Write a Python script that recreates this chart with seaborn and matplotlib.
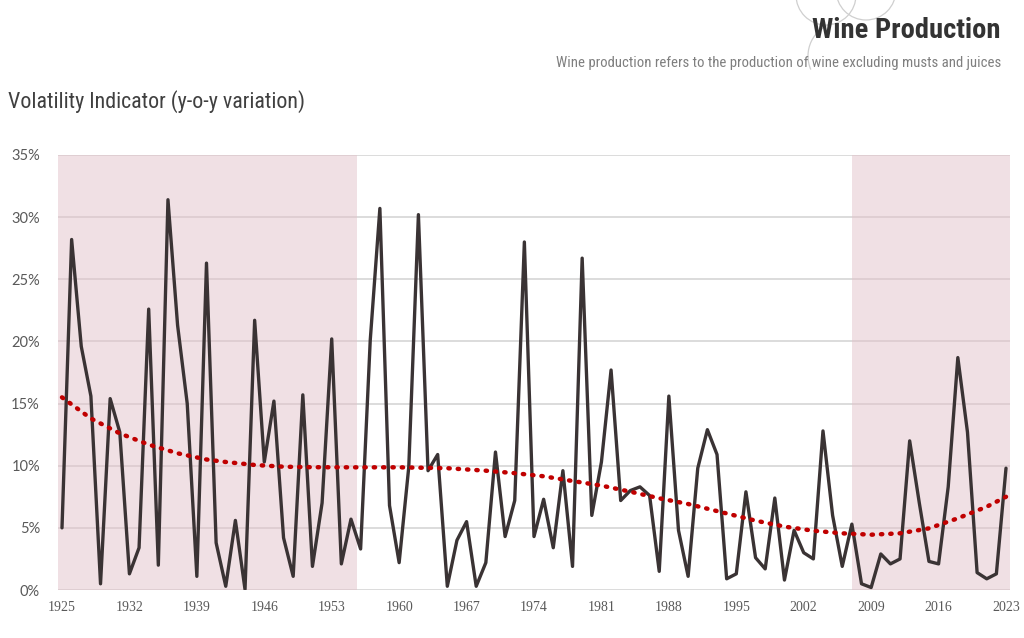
import numpy as np
import pandas as pd
import matplotlib
matplotlib.use("Agg")
import matplotlib.pyplot as plt
import seaborn as sns
from matplotlib.patches import Arc
from matplotlib import font_manager as fm

# ---------------- data ----------------
years = list(range(1925, 2024))
volatility = [
    5.0, 28.2, 19.6, 15.6, 0.5, 15.4, 12.7, 1.3, 3.4, 22.6,      # 1925-1934
    2.0, 31.4, 21.3, 15.0, 1.1, 26.3, 3.8, 0.3, 5.6, 0.05,       # 1935-1944
    21.7, 10.3, 15.2, 4.2, 1.1, 15.7, 1.9, 7.0, 20.2, 2.1,       # 1945-1954
    5.7, 3.3, 20.1, 30.7, 6.8, 2.2, 9.9, 30.2, 9.6, 10.9,        # 1955-1964
    0.3, 4.0, 5.5, 0.3, 2.2, 11.1, 4.3, 7.2, 28.0, 4.3,          # 1965-1974
    7.3, 3.4, 9.6, 1.9, 26.7, 6.0, 10.3, 17.7, 7.2, 8.0,         # 1975-1984
    8.3, 7.6, 1.5, 15.6, 4.8, 1.1, 9.8, 12.9, 10.9, 0.9,         # 1985-1994
    1.3, 7.9, 2.6, 1.7, 7.4, 0.8, 4.8, 3.0, 2.5, 12.8,           # 1995-2004
    6.0, 1.9, 5.3, 0.5, 0.2, 2.9, 2.1, 2.5, 12.0, 7.0,           # 2005-2014
    2.3, 2.1, 8.3, 18.7, 12.7, 1.4, 0.9, 1.3, 9.8,               # 2015-2023
]
trend_years = [1925, 1928, 1931, 1934, 1937, 1940, 1942, 1945, 1948, 1951, 1955,
               1960, 1965, 1969, 1972, 1975, 1978, 1981, 1984, 1987, 1990, 1994,
               1997, 2000, 2003, 2006, 2009, 2012, 2015, 2018, 2021, 2023]
trend_values = [15.5, 13.8, 12.6, 11.7, 11.0, 10.5, 10.3, 10.06, 9.92, 9.88, 9.87,
                9.87, 9.8, 9.6, 9.4, 9.15, 8.77, 8.4, 7.91, 7.38, 6.92, 6.16,
                5.58, 5.1, 4.77, 4.56, 4.45, 4.56, 4.96, 5.77, 6.7, 7.5]
shaded_periods = [(1924.585, 1955.6), (2007.0, 2023.415)]
y_ticks = [0, 5, 10, 15, 20, 25, 30, 35]
x_ticks = list(range(1925, 2024, 7))

df = pd.DataFrame({"year": years, "value": volatility})
tdf = pd.DataFrame({"year": trend_years, "value": trend_values})

# ---------------- fonts: look for a condensed face ----------------
cond_family = None
cond_stretch = "normal"
names = {f.name for f in fm.fontManager.ttflist}
for cand in ["Liberation Sans Narrow", "Roboto Condensed", "Open Sans Condensed",
             "Noto Sans Condensed", "DejaVu Sans Condensed"]:
    if cand in names:
        cond_family = cand
        break
if cond_family is None:
    for f in fm.fontManager.ttflist:
        st = f.stretch
        if (isinstance(st, str) and "condensed" in st) or (isinstance(st, int) and st < 500):
            cond_family = f.name
            cond_stretch = st
            break
found = cond_family is not None
if not found:
    cond_family = "Roboto"

title_fs = 20.5 if found else 18.0
sub_fs = 10.6 if found else 9.5
head_fs = 15.8 if found else 14.3

# ---------------- figure ----------------
sns.set_theme(style="white")
plt.rcParams["font.family"] = ["Lato", "DejaVu Sans"]

fig = plt.figure(figsize=(10.24, 6.38), dpi=100)
ax = fig.add_axes([58 / 1024, 48 / 638, 952 / 1024, 435 / 638])

ax.set_xlim(1924.585, 2023.415)
ax.set_ylim(0, 35)

for t in y_ticks:
    ax.axhline(t, color="#d6d6d6", lw=1.2, zorder=1)

for a, b in shaded_periods:
    ax.axvspan(a, b, color="#e3c2ca", alpha=0.5, lw=0, zorder=2)

sns.lineplot(data=df, x="year", y="value", ax=ax, color="#3a3334", lw=2.4,
             zorder=4, legend=False)
sns.lineplot(data=tdf, x="year", y="value", ax=ax, color="#c00000", lw=3.2,
             linestyle=(0, (0.3, 1.8)), zorder=5, legend=False)
ax.lines[-1].set_dash_capstyle("round")

ax.set_xlabel("")
ax.set_ylabel("")
for s in ax.spines.values():
    s.set_visible(False)

ax.set_yticks(y_ticks)
ax.set_yticklabels([f"{t}%" for t in y_ticks], color="#595959", fontsize=10.5,
                   family=["Lato", "DejaVu Sans"])
ax.set_xticks(x_ticks)
ax.set_xticklabels([str(t) for t in x_ticks], color="#595959", fontsize=10,
                   family=["Liberation Serif", "DejaVu Serif"])
ax.tick_params(axis="both", length=0)
ax.tick_params(axis="y", pad=13)
ax.tick_params(axis="x", pad=8)

# decorative grape outlines
W, H = 1024, 638
for cx, cy, r, t1, t2 in [(826, -5, 30, 180, 360), (866, -10, 30, 180, 360),
                          (842, 56, 34, 100, 215)]:
    arc = Arc((cx / W, 1 - cy / H), 2 * r / W, 2 * r / H, theta1=t1, theta2=t2,
              transform=fig.transFigure, ec="#cfcfcf", lw=0.9)
    fig.patches.append(arc)

cond = [cond_family, "DejaVu Sans"]
fig.text(1001 / W, 1 - 31 / H, "Wine Production", ha="right", va="center",
         fontsize=title_fs, fontweight="bold", color="#333333", family=cond,
         fontstretch=cond_stretch)
fig.text(1001 / W, 1 - 63 / H,
         "Wine production refers to the production of wine excluding musts and juices",
         ha="right", va="center", fontsize=sub_fs, color="#7f7f7f", family=cond,
         fontstretch=cond_stretch)
fig.text(8 / W, 1 - 102 / H, "Volatility Indicator (y-o-y variation)",
         ha="left", va="center", fontsize=head_fs, color="#404040", family=cond,
         fontstretch=cond_stretch)

fig.savefig("out.png", dpi=100)
